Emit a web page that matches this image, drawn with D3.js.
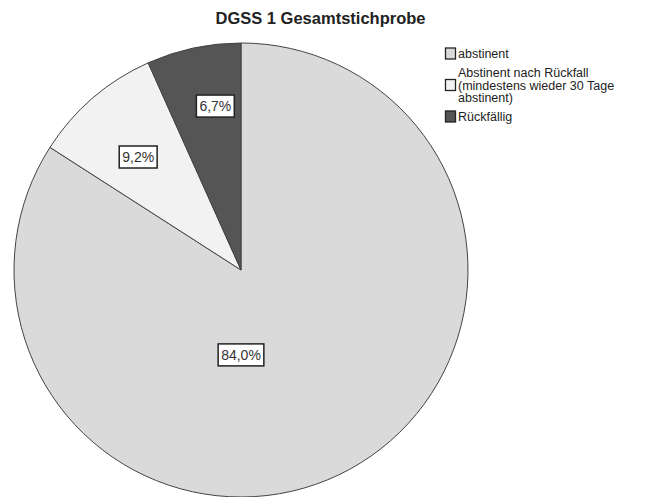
<!DOCTYPE html>
<html><head><meta charset="utf-8">
<script src="https://cdn.jsdelivr.net/npm/d3@7/dist/d3.min.js"></script>
<style>body{margin:0;background:#fff}svg{display:block}text{font-family:"Liberation Sans",Arial,sans-serif}</style>
</head><body>
<svg id="c" width="648" height="497"></svg>
<script>
const title = "DGSS 1 Gesamtstichprobe";
const categories = ["abstinent", "Abstinent nach Rückfall (mindestens wieder 30 Tage abstinent)", "Rückfällig"];
const legendLines = [["abstinent"], ["Abstinent nach Rückfall", "(mindestens wieder 30 Tage", "abstinent)"], ["Rückfällig"]];
const values = [84.0, 9.2, 6.7];
const labels = ["84,0%", "9,2%", "6,7%"];

// styling / layout config
const colors = ["#dadada", "#f2f2f2", "#555555"];
const cx = 241, cy = 270, R = 227;
// label anchors (polar, degrees clockwise from 12 o'clock; radius as fraction of R)
const labelAngleDeg = [180, 317.7, 351.1];
const labelRadius = [0.374, 0.673, 0.731];

const svg = d3.select("#c");
svg.append("text").attr("x", 320.5).attr("y", 24).attr("text-anchor", "middle")
  .attr("font-weight", "bold").attr("font-size", 16.5).attr("fill", "#222").text(title);

const pie = d3.pie().sort(null).value(d => d);
const arcs = pie(values);
const arc = d3.arc().innerRadius(0).outerRadius(R);
const g = svg.append("g").attr("transform", `translate(${cx},${cy})`);
g.selectAll("path").data(arcs).join("path")
  .attr("d", arc).attr("fill", (d, i) => colors[i])
  .attr("stroke", "#444").attr("stroke-width", 1);

arcs.forEach((a, i) => {
  const ang = labelAngleDeg[i] * Math.PI / 180;
  const r = R * labelRadius[i];
  const x = r * Math.sin(ang), y = -r * Math.cos(ang);
  const t = g.append("text").attr("x", x).attr("y", y + 5).attr("text-anchor", "middle")
    .attr("font-size", 14).attr("fill", "#333").text(labels[i]);
  const bb = t.node().getBBox();
  g.insert("rect", () => t.node()).attr("x", bb.x - 3).attr("y", y - 11)
    .attr("width", bb.width + 6).attr("height", 22)
    .attr("fill", "#fff").attr("stroke", "#222").attr("stroke-width", 1.5);
});

// legend
const lg = svg.append("g");
const lineH = 12.5, gap = 6.5;
let base = 58;
legendLines.forEach((lines, i) => {
  const midBase = base + (lines.length - 1) / 2 * lineH;
  lg.append("rect").attr("x", 445.5).attr("y", midBase - 10).attr("width", 10).attr("height", 11)
    .attr("fill", colors[i]).attr("stroke", "#222").attr("stroke-width", 1.3);
  lines.forEach((l, j) => {
    lg.append("text").attr("x", 458).attr("y", base + j * lineH)
      .attr("font-size", 12.5).attr("fill", "#222").text(l);
  });
  base += lines.length * lineH + gap;
});
</script>
</body></html>
